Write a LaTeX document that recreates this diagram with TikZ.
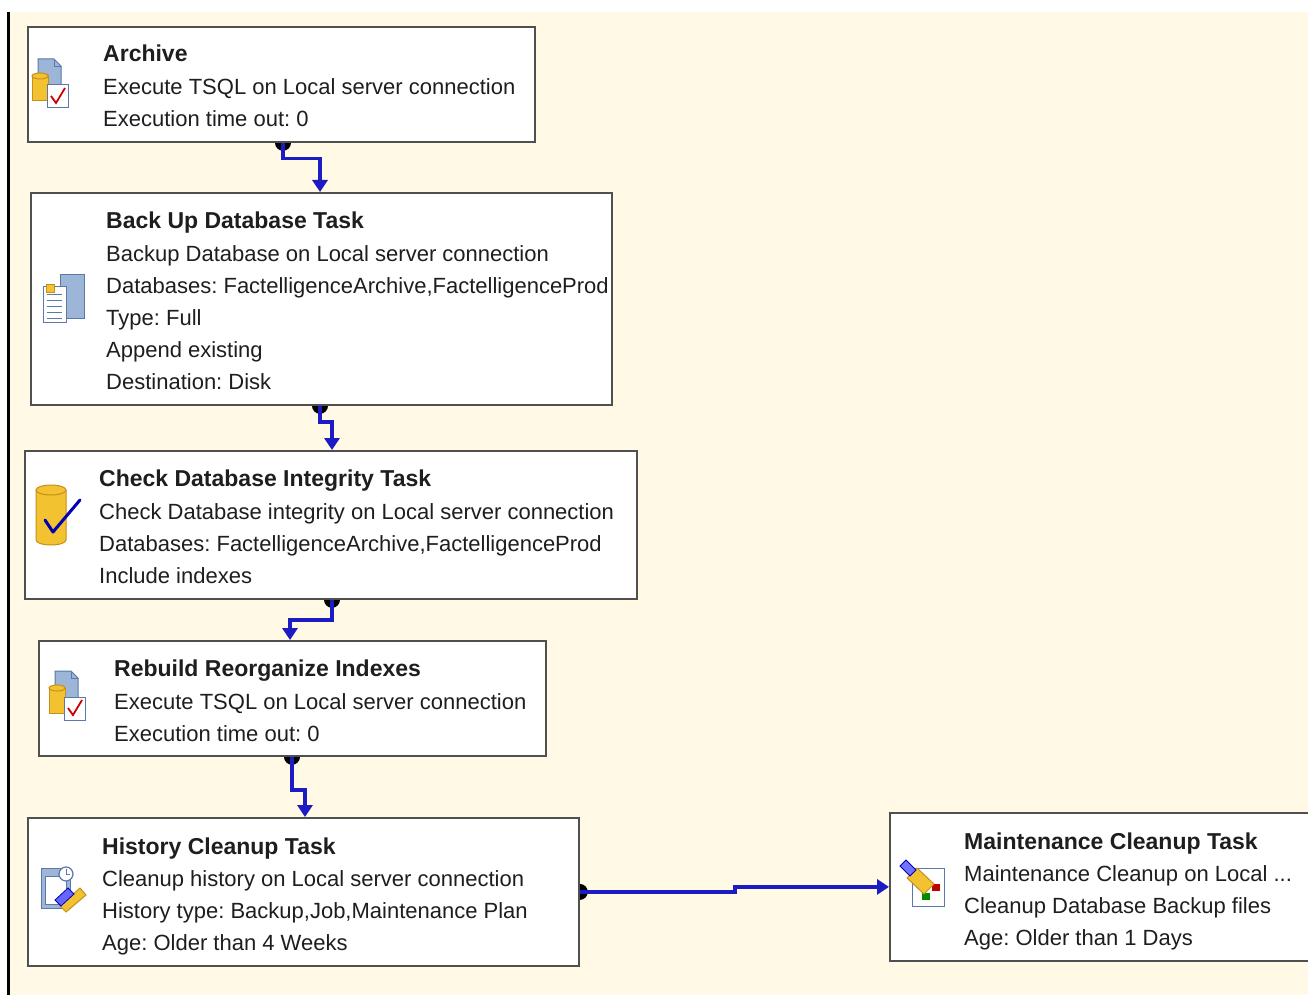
\documentclass[tikz,border=0pt]{standalone}
\usepackage{fontspec}
\setmainfont{Liberation Sans}
\usetikzlibrary{arrows.meta}
\pgfdeclarelayer{bg}\pgfdeclarelayer{conn}\pgfsetlayers{bg,conn,main}
\definecolor{cream}{HTML}{FFF9E6}
\definecolor{connblue}{HTML}{1C1CC4}
\definecolor{boxgray}{HTML}{505050}
\definecolor{txtcol}{HTML}{1E1E1E}
\definecolor{iconyel}{HTML}{F2C230}
\definecolor{iconyeld}{HTML}{C8901A}
\definecolor{iconblue}{HTML}{9DB6D8}
\definecolor{iconblued}{HTML}{5A78A8}
\frenchspacing
\begin{document}
\begin{tikzpicture}[x=1pt,y=-1pt,
  box/.style={draw=boxgray, line width=1.8pt, fill=white, anchor=north west, inner sep=0pt},
  txt/.style={anchor=base west, inner sep=0pt, text=txtcol, font=\fontsize{22}{26}\selectfont},
  ttl/.style={txt, font=\fontsize{23}{27}\selectfont\bfseries},
  conn/.style={draw=connblue, line width=3.4pt, -{Triangle[width=15pt,length=12pt]}},
  knob/.style={fill=black},
  doc/.style={draw=iconblued, fill=white, line width=1pt},
  docb/.style={draw=iconblued, fill=iconblue, line width=1pt},
  cyl/.style={draw=iconyeld, fill=iconyel, line width=1pt}]
\useasboundingbox (0,0) rectangle (1308,995);
\begin{pgfonlayer}{bg}
  \fill[white] (0,0) rectangle (1308,995);
  \fill[cream] (9,12) rectangle (1308,996);
  \fill[black] (6.5,12) rectangle (9.5,996);
\end{pgfonlayer}

% boxes
\node[box, minimum width=507pt, minimum height=115pt] (arch) at (27,26) {};
\node[box, minimum width=581pt, minimum height=212pt] (bak) at (30,192) {};
\node[box, minimum width=612pt, minimum height=148pt] (chk) at (24,450) {};
\node[box, minimum width=507pt, minimum height=115pt] (reb) at (38,640) {};
\node[box, minimum width=551pt, minimum height=148pt] (his) at (27,817) {};
\node[box, minimum width=425pt, minimum height=148pt] (mnt) at (889,812) {};

% texts
\node[ttl] (arch1) at (103,62) {Archive};
\node[txt] (arch2) at (103,95) {Execute TSQL on Local server connection};
\node[txt] (arch3) at (103,127) {Execution time out: 0};

\node[ttl] (bak1) at (106,228) {Back Up Database Task};
\node[txt] (bak2) at (106,261) {Backup Database on Local server connection};
\node[txt] (bak3) at (106,293) {Databases: FactelligenceArchive,FactelligenceProd};
\node[txt] (bak4) at (106,325) {Type: Full};
\node[txt] (bak5) at (106,357) {Append existing};
\node[txt] (bak6) at (106,389) {Destination: Disk};

\node[ttl] (chk1) at (99,486) {Check Database Integrity Task};
\node[txt] (chk2) at (99,519) {Check Database integrity on Local server connection};
\node[txt] (chk3) at (99,551) {Databases: FactelligenceArchive,FactelligenceProd};
\node[txt] (chk4) at (99,583) {Include indexes};

\node[ttl] (reb1) at (114,676) {Rebuild Reorganize Indexes};
\node[txt] (reb2) at (114,709) {Execute TSQL on Local server connection};
\node[txt] (reb3) at (114,741) {Execution time out: 0};

\node[ttl] (his1) at (102,854) {History Cleanup Task};
\node[txt] (his2) at (102,886) {Cleanup history on Local server connection};
\node[txt] (his3) at (102,918) {History type: Backup,Job,Maintenance Plan};
\node[txt] (his4) at (102,950) {Age: Older than 4 Weeks};

\node[ttl] (mnt1) at (964,849) {Maintenance Cleanup Task};
\node[txt] (mnt2) at (964,881) {Maintenance Cleanup on Local ...};
\node[txt] (mnt3) at (964,913) {Cleanup Database Backup files};
\node[txt] (mnt4) at (964,945) {Age: Older than 1 Days};

% connectors (under the boxes)
\begin{pgfonlayer}{conn}
  \fill[knob] ([xshift=256pt]arch.south west) ellipse (8pt and 8pt);
  \draw[conn] ([xshift=256pt]arch.south west) -- ++(0,16) -| ([xshift=290pt]bak.north west);
  \fill[knob] ([xshift=290pt]bak.south west) ellipse (8pt and 8pt);
  \draw[conn] ([xshift=290pt]bak.south west) -- ++(0,16) -| ([xshift=308pt]chk.north west);
  \fill[knob] ([xshift=308pt]chk.south west) ellipse (8pt and 8pt);
  \draw[conn] ([xshift=308pt]chk.south west) -- ++(0,20) -| ([xshift=252pt]reb.north west);
  \fill[knob] ([xshift=254pt]reb.south west) ellipse (8pt and 8pt);
  \draw[conn] ([xshift=254pt]reb.south west) -- ++(0,33) -| ([xshift=278pt]his.north west);
  \fill[knob] (his.east) ellipse (8pt and 8pt);
  \draw[conn] (his.east) -| ([xshift=-154pt]mnt.west) -- (mnt.west);
\end{pgfonlayer}

% icon: Archive (execute TSQL)
\begin{scope}[shift={(0,0)}]
  \draw[docb] (38,59) -- (54,59) -- (61,66) -- (61,94) -- (38,94) -- cycle;
  \draw[iconblued, line width=0.8pt] (54,59) -- (54,66) -- (61,66);
  \draw[cyl] (32,76) rectangle (48,101);
  \draw[cyl] (40,76) ellipse (8pt and 3pt);
  \draw[doc] (47,85) rectangle (68,108);
  \draw[red!80!black, line width=1.8pt] (51,96) -- (56,103) -- (65,88);
\end{scope}
% icon: Rebuild (execute TSQL)
\begin{scope}[shift={(17,612)}]
  \draw[docb] (38,59) -- (54,59) -- (61,66) -- (61,94) -- (38,94) -- cycle;
  \draw[iconblued, line width=0.8pt] (54,59) -- (54,66) -- (61,66);
  \draw[cyl] (32,76) rectangle (48,101);
  \draw[cyl] (40,76) ellipse (8pt and 3pt);
  \draw[doc] (47,85) rectangle (68,108);
  \draw[red!80!black, line width=1.8pt] (51,96) -- (56,103) -- (65,88);
\end{scope}
% icon: Back up
\draw[docb] (60,274) rectangle (84,318);
\draw[doc] (43,286) rectangle (66,322);
\foreach \yy in {294,300,306,312,318}{\draw[iconblued, line width=1pt] (47,\yy) -- (62,\yy);}
\draw[iconyeld, fill=iconyel, line width=0.8pt] (46,284) rectangle (54,292);
% icon: Check integrity
\draw[cyl] (36,490) -- (36,540) arc[start angle=180, end angle=360, x radius=15pt, y radius=5pt] -- (66,490);
\draw[cyl] (51,490) ellipse (15pt and 5pt);
\draw[blue!70!black, line width=3pt, line cap=round, line join=round] (45,520) -- (53,532) -- (80,500);
% icon: History cleanup
\draw[docb] (41,868) rectangle (70,908);
\draw[doc] (45,876) rectangle (66,904);
\draw[iconblued, fill=white, line width=1.2pt] (66,874) circle (7pt);
\draw[iconblued, line width=1pt] (66,874) -- (66,869) (66,874) -- (70,874);
\draw[iconyeld, fill=iconyel, line width=1pt] (60,906) -- (80,888) -- (86,895) -- (66,912) -- cycle;
\draw[blue!70!black, fill=blue!60, line width=0.8pt] (55,900) -- (68,888) -- (74,894) -- (61,906) -- cycle;
% icon: Maintenance cleanup
\draw[doc] (912,868) rectangle (944,906);
\fill[red!75!black] (932,884) rectangle (940,891);
\fill[green!55!black] (922,893) rectangle (930,900);
\draw[iconyeld, fill=iconyel, line width=1pt] (907,878) -- (917,868) -- (934,884) -- (924,894) -- cycle;
\draw[blue!70!black, fill=blue!55, line width=0.8pt] (900,866) -- (906,860) -- (916,870) -- (910,876) -- cycle;
\end{tikzpicture}
\end{document}
